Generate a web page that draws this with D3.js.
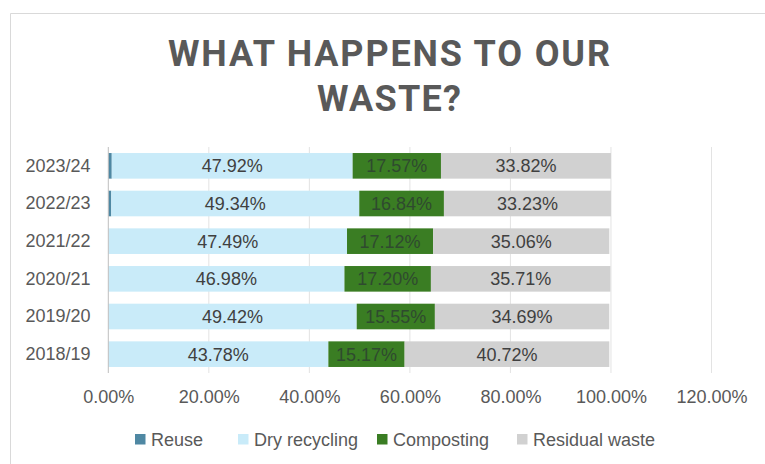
<!DOCTYPE html>
<html><head><meta charset="utf-8">
<script src="https://cdn.jsdelivr.net/npm/d3@7"></script>
<style>body{margin:0;background:#fff;}svg{display:block;}</style>
</head><body>
<svg id="c" width="765" height="464"></svg>
<script>
const categories = ["2023/24","2022/23","2021/22","2020/21","2019/20","2018/19"];
const seriesNames = ["Reuse","Dry recycling","Composting","Residual waste"];
const reuse = [0.69,0.59,0,0,0,0];
const dryRecycling = [47.92,49.34,47.49,46.98,49.42,43.78];
const composting = [17.57,16.84,17.12,17.20,15.55,15.17];
const residual = [33.82,33.23,35.06,35.71,34.69,40.72];
const xTicks = [0,20,40,60,80,100,120];
const titleLines = ["WHAT HAPPENS TO OUR","WASTE?"];
const colors = ["#4f88a3","#c9ebf9","#3a7d23","#d1d1d1"];

const svg = d3.select("#c");
const font = "'Liberation Sans', Arial, sans-serif";

// chart border
svg.append("path").attr("d","M10.5,464 L10.5,13.5 L765,13.5").attr("fill","none").attr("stroke","#d9d9d9").attr("stroke-width",1);

// title
const tt = svg.append("g");
const titleW = [442,144];
titleLines.forEach((t,i)=>{
  tt.append("text").attr("x",389).attr("y",66+i*45).attr("text-anchor","middle")
    .attr("font-family","Roboto, sans-serif").attr("font-weight","bold").attr("font-size",36)
    .attr("textLength",titleW[i]).attr("lengthAdjust","spacing")
    .attr("fill","#595959").text(t);
});

const x = d3.scaleLinear().domain([0,120]).range([108.3,711.5]);
const y = d3.scaleBand().domain(categories).range([147,373]).paddingInner(0.32).paddingOuter(0.16);

// gridlines
svg.append("g").selectAll("line").data(xTicks.slice(1)).join("line")
  .attr("x1",d=>x(d)).attr("x2",d=>x(d)).attr("y1",147).attr("y2",373)
  .attr("stroke","#e3e3e3").attr("stroke-width",1);

const data = categories.map((c,i)=>({cat:c,"Reuse":reuse[i],"Dry recycling":dryRecycling[i],"Composting":composting[i],"Residual waste":residual[i]}));
const stack = d3.stack().keys(seriesNames)(data);

const g = svg.append("g");
stack.forEach((s,si)=>{
  g.append("g").selectAll("rect").data(s).join("rect")
    .attr("x",d=>x(d[0])).attr("width",d=>Math.max(0,x(d[1])-x(d[0])))
    .attr("y",d=>y(d.data.cat)).attr("height",y.bandwidth())
    .attr("fill",colors[si]);
});
// labels
stack.forEach((s,si)=>{
  if(si===0) return;
  g.append("g").selectAll("text").data(s).join("text")
    .attr("x",d=>(x(d[0])+x(d[1]))/2).attr("y",d=>y(d.data.cat)+y.bandwidth()/2)
    .attr("dy","0.36em").attr("text-anchor","middle")
    .attr("font-family",font).attr("font-size",18)
    .attr("fill", si===2 ? "#2f4a2f" : "#404040")
    .text(d=>(d[1]-d[0]).toFixed(2)+"%");
});

// y axis line
svg.append("line").attr("x1",108.3).attr("x2",108.3).attr("y1",147).attr("y2",373).attr("stroke","#bfbfbf").attr("stroke-width",1);

// x axis labels
const xa = svg.append("g").attr("transform","translate(0,373)").call(d3.axisBottom(x).tickValues(xTicks).tickSize(0).tickPadding(17).tickFormat(d=>d.toFixed(2)+"%"));
xa.select(".domain").remove();
xa.selectAll("text").attr("font-family",font).attr("font-size",18).attr("fill","#595959");

// y axis labels
const ya = svg.append("g").attr("transform","translate(108,0)").call(d3.axisLeft(y).tickSize(0).tickPadding(17.5));
ya.select(".domain").remove();
ya.selectAll("text").attr("font-family",font).attr("font-size",18).attr("fill","#595959");

// legend
const legX = [135,238,377,517];
const lg = svg.append("g");
seriesNames.forEach((n,i)=>{
  lg.append("rect").attr("x",legX[i]).attr("y",434).attr("width",10.5).attr("height",10.5).attr("fill",colors[i]);
  lg.append("text").attr("x",legX[i]+16).attr("y",439.5).attr("dy","0.36em")
    .attr("font-family",font).attr("font-size",18).attr("fill","#595959").text(n);
});
</script>
</body></html>
